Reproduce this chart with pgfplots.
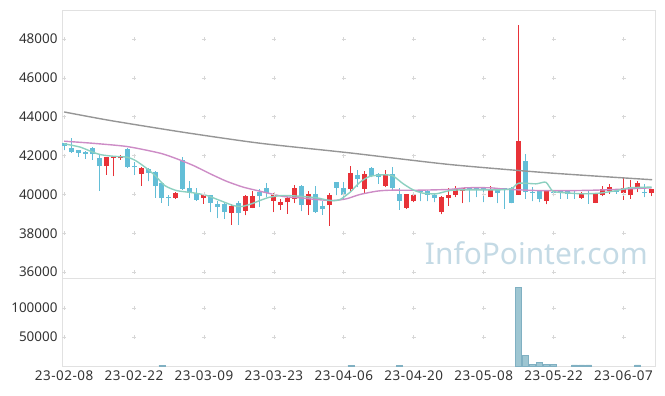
\documentclass[border=0pt]{standalone}
\usepackage{fontspec}
\setmainfont{Noto Sans}
\usepackage{pgfplots}
\pgfplotsset{compat=1.18}
\usepackage{pgfplotstable}

\definecolor{candlered}{RGB}{232,50,56}
\definecolor{candleblue}{RGB}{99,190,215}
\definecolor{maTeal}{RGB}{140,208,192}
\definecolor{maPink}{RGB}{205,140,198}
\definecolor{maGray}{RGB}{150,150,150}
\definecolor{framegray}{RGB}{225,225,225}
\definecolor{crossgray}{RGB}{215,215,215}
\definecolor{labelgray}{RGB}{51,51,51}
\definecolor{wmcolor}{RGB}{196,218,229}
\definecolor{volfill}{RGB}{158,198,210}
\definecolor{voledge}{RGB}{128,176,194}

% up (red) candles: index, open, high, low, close
\pgfplotstableread{
i o h l c
6 41460 41950 41015 41905
7 41870 41980 40940 41957
8 41854 42010 41800 41957
11 41045 41400 40460 41355
16 39810 40150 39780 40100
20 39810 40035 39520 39950
24 39040 39500 38440 39420
26 39160 39950 38920 39900
27 39315 40190 39300 39900
30 39655 40070 39090 39950
31 39450 39780 39210 39590
32 39600 39880 39000 39800
33 39760 40500 39550 40310
35 39450 40170 38960 40050
38 39450 40080 38390 39950
41 40270 41460 40120 41100
43 40290 41190 40070 41030
46 40430 41240 40380 41065
49 39315 40050 39270 40000
50 39640 40050 39590 39950
54 39090 39900 38970 39860
55 39810 40345 39430 39950
56 39985 40460 39860 40260
57 40200 40340 39550 40325
61 39860 40460 39850 40290
65 39985 48750 39985 42730
69 39655 40250 39485 40200
74 39830 40150 39780 40090
76 39570 40050 39550 40000
77 39965 40460 39900 40260
78 40200 40550 40035 40410
80 40070 40890 39730 40345
81 39950 40760 39780 40380
82 40410 40720 40120 40590
84 40070 40300 39910 40290
}\upcandles

% down (blue) candles
\pgfplotstableread{
i o h l c
0 42630 42650 42270 42490
1 42370 42920 42150 42180
2 42270 42280 41940 42130
3 42180 42250 41840 42110
4 42400 42420 41790 42075
5 41870 42010 40190 41460
9 42350 42380 41380 41400
10 41460 41660 41015 41390
12 41290 41350 40670 41100
13 41133 41185 39845 40430
14 40567 40600 39570 39810
15 39880 39985 39430 39810
17 41800 41905 40240 40270
18 40325 40700 39830 40100
19 40090 40325 39690 39740
21 39950 39990 39090 39550
22 39485 39640 38780 39345
23 39485 39550 38750 39090
25 39570 39690 38440 39040
28 40120 40295 39350 39900
29 40325 40600 39860 40090
34 40460 40500 39140 39450
36 40015 40460 39060 39090
37 39430 39690 38960 39240
39 40620 40650 39950 40325
40 40360 40620 39730 39965
42 40995 41240 40380 40790
44 41375 41430 40900 40960
45 41030 41100 40550 40890
47 41030 41400 40200 40325
48 40000 40345 39210 39690
51 40200 40250 39640 40140
52 40200 40250 39640 39985
53 39950 40000 39600 39810
58 40325 40340 39600 40270
59 40330 40350 39860 40280
60 40320 40340 39600 40260
62 40345 40360 39550 40070
63 40325 40340 39260 40240
64 40345 40400 39540 39550
66 41750 42100 39780 40120
67 40150 40400 39650 40090
68 40200 40250 39600 39780
70 40150 40250 39900 40070
71 40170 40200 39780 40070
72 40200 40250 39780 40000
73 40100 40230 39780 40040
75 40100 40200 39520 40040
79 40200 40230 40050 40140
83 40150 40550 39860 40090
}\downcandles

\pgfplotsset{
  chartbase/.style={
    scale only axis, width=593bp,
    xmin=-0.3, xmax=84.5,
    axis line style={draw=framegray, line width=0.8bp},
    major tick length=0pt,
    tick label style={font=\fontsize{13.5}{15}\selectfont, text=labelgray},
    scaled y ticks=false, scaled x ticks=false,
    /pgf/number format/assume math mode=true,
    /pgf/number format/fixed,
    /pgf/number format/precision=0,
    /pgf/number format/1000 sep={},
    xtick={0,10,...,80},
  },
  crossmarks/.style={only marks, mark=+, mark size=2bp, color=crossgray, mark options={line width=0.7bp}},
  nomarks/.style={only marks, mark=*, mark size=0pt, mark options={draw=none, fill=none}},
}

\begin{document}
\begin{tikzpicture}
% ---------- price panel ----------
\begin{axis}[chartbase,
  at={(0,0)}, anchor=south west,
  height=268bp,
  ymin=35700, ymax=49500,
  ytick={36000,38000,...,48000},
  xticklabels={},
  yticklabel style={xshift=-1bp},
]
\pgfplotsinvokeforeach{0,10,...,80}{
  \addplot[crossmarks] coordinates {(#1,36000) (#1,38000) (#1,40000) (#1,42000) (#1,44000) (#1,46000) (#1,48000)};
}
\node[anchor=base east, inner sep=0pt, font=\fontsize{30}{30}\selectfont, text=wmcolor] at (axis cs:83.5,36370) {InfoPointer.com};

% wicks
\addplot[nomarks, error bars/.cd, y dir=plus, y explicit, error mark=none,
  error bar style={line width=1bp, draw=candlered}]
  table[x=i, y=l, y error plus expr=\thisrow{h}-\thisrow{l}] {\upcandles};
\addplot[nomarks, error bars/.cd, y dir=plus, y explicit, error mark=none,
  error bar style={line width=1bp, draw=candleblue}]
  table[x=i, y=l, y error plus expr=\thisrow{h}-\thisrow{l}] {\downcandles};
% bodies
\addplot[nomarks, error bars/.cd, y dir=plus, y explicit, error mark=none,
  error bar style={line width=5bp, draw=candlered}]
  table[x=i, y=o, y error plus expr=\thisrow{c}-\thisrow{o}] {\upcandles};
\addplot[nomarks, error bars/.cd, y dir=plus, y explicit, error mark=none,
  error bar style={line width=5bp, draw=candleblue}]
  table[x=i, y=c, y error plus expr=\thisrow{o}-\thisrow{c}] {\downcandles};

% long moving average (gray)
\addplot[maGray, line width=1.4bp, smooth, tension=0.4] coordinates {
 (0,44250) (6.6,43810) (17.3,43190) (28,42640) (40.9,42140) (55.1,41545) (69.4,41110) (84.1,40760)};
% 20-day moving average (pink)
\addplot[maPink, line width=1.4bp, smooth, tension=0.4] coordinates {
 (0,42745) (4,42640) (9,42470) (13.7,42130) (16.1,41840) (18.5,41490) (20.9,41065) (23.2,40685)
 (25.6,40380) (28,40170) (31.3,39900) (33.7,39830) (36.1,39740) (38.5,39690) (40.4,39780)
 (42.3,40000) (44.7,40170) (46.6,40220) (50.4,40220) (55,40260) (57.5,40345) (60.9,40345)
 (63.2,40270) (68,40200) (72.7,40200) (77.5,40240) (84,40345)};
% 5-day moving average (teal)
\addplot[maTeal, line width=1.4bp, smooth, tension=0.4] coordinates {
 (0,42610) (2.3,42440) (4.1,42180) (5.3,42045) (7,41970) (9,41920) (10.2,41750) (11.6,41400)
 (13,40980) (14.4,40460) (16.1,40200) (18.5,40085) (20.4,39950) (22.3,39690) (24.2,39430)
 (25.4,39380) (26.8,39520) (28,39690) (29.4,39860) (31.3,39950) (33.7,39910) (36.1,39830)
 (38,39690) (39.4,39730) (40.9,40120) (42.3,40630) (43.7,40930) (45.6,41015) (47,40960)
 (48.5,40550) (49.9,40240) (51.3,40070) (53.2,40035) (55.1,40200) (57,40240) (62.3,40240)
 (64,40300) (65,40580) (67.5,40550) (68.9,40630) (69.9,40170) (71.8,40085) (74.2,40035)
 (76.6,40070) (79,40200) (80.9,40345) (84,40380)};
\end{axis}

% ---------- volume panel ----------
\begin{axis}[chartbase,
  at={(0,-88bp)}, anchor=south west,
  height=88bp,
  ymin=0, ymax=152000,
  ytick={50000,100000},
  xticklabels={23-02-08,23-02-22,23-03-09,23-03-23,23-04-06,23-04-20,23-05-08,23-05-22,23-06-07},
  yticklabel style={xshift=-1bp},
  xticklabel style={yshift=-1bp, font=\fontsize{13.5}{15}\selectfont\addfontfeatures{LetterSpace=4}},
]
\pgfplotsinvokeforeach{0,10,...,80}{
  \addplot[crossmarks] coordinates {(#1,50000) (#1,100000)};
}
\addplot[ybar, bar width=6bp, fill=volfill, draw=voledge, line width=0.6bp] coordinates {
 (14,1500) (41,1500) (48,1500) (65,135500) (66,18900) (67,3300) (68,6700)
 (69,2200) (70,2200) (73,2000) (74,2000) (75,2000) (82,2000)};
\end{axis}

\pgfresetboundingbox
\path[use as bounding box] (-62bp,-118bp) rectangle (603bp,278bp);
\end{tikzpicture}
\end{document}
